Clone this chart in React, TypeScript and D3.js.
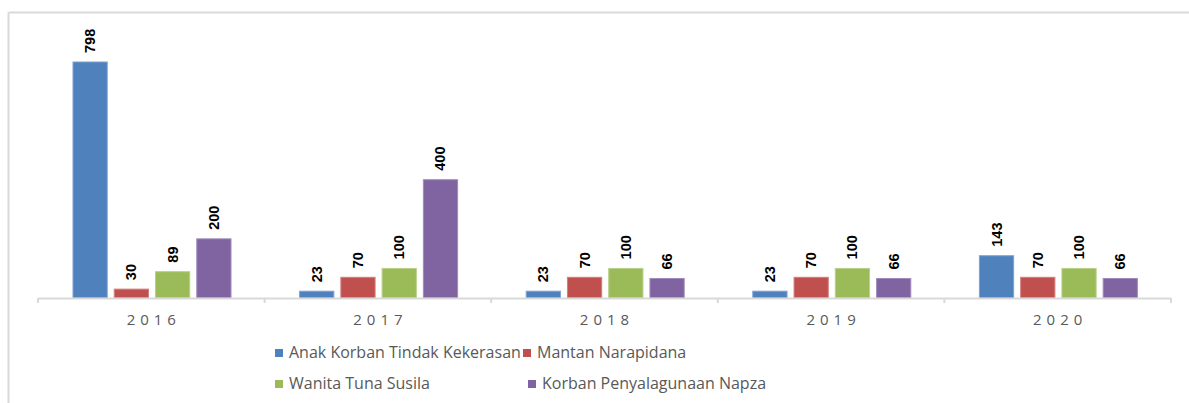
import React from "react";
import * as d3 from "d3";

const years = ["2016", "2017", "2018", "2019", "2020"];
const seriesNames = [
  "Anak Korban Tindak Kekerasan",
  "Mantan Narapidana",
  "Wanita Tuna Susila",
  "Korban Penyalagunaan Napza",
];
const anakKorban = [798, 23, 23, 23, 143];
const mantanNarapidana = [30, 70, 70, 70, 70];
const wanitaTunaSusila = [89, 100, 100, 100, 100];
const korbanNapza = [200, 400, 66, 66, 66];
const seriesValues = [anakKorban, mantanNarapidana, wanitaTunaSusila, korbanNapza];
const colors = ["#4F81BD", "#C0504D", "#9BBB59", "#8064A2"];
const strokes = ["#7FA2D0", "#D2807E", "#B8D08A", "#A08CBB"];

const W = 1189;
const H = 403;

export default function App() {
  const x0 = d3.scaleBand<string>().domain(years).range([38, 1171]).paddingInner(0).paddingOuter(0);
  const x1 = d3
    .scaleBand<string>()
    .domain(seriesNames)
    .range([35, 35 + 158])
    .paddingInner(0.17)
    .paddingOuter(0);
  const y = d3.scaleLinear().domain([0, 798]).range([298, 62]);
  const base = y(0);

  const legendItems = [
    { name: seriesNames[0], color: colors[0], x: 275, y: 358 },
    { name: seriesNames[1], color: colors[1], x: 523, y: 358 },
    { name: seriesNames[2], color: colors[2], x: 275, y: 389 },
    { name: seriesNames[3], color: colors[3], x: 528, y: 389 },
  ];

  const ticks = [...years.map((yr) => x0(yr) as number), 1171];

  return (
    <svg width={W} height={H} style={{ position: "absolute", left: 0, top: 0 }}>
      <rect x={0} y={0} width={W} height={H} fill="#fff" />
      <line x1={8.5} y1={12.5} x2={W} y2={12.5} stroke="#D9D9D9" strokeWidth={2} />
      <line x1={8.5} y1={12.5} x2={8.5} y2={H} stroke="#D9D9D9" strokeWidth={2} />

      {seriesValues.map((vals, si) =>
        vals.map((v, ci) => {
          const bx = (x0(years[ci]) as number) + (x1(seriesNames[si]) as number);
          const bw = x1.bandwidth();
          const top = y(v);
          const cx = bx + bw / 2;
          return (
            <g key={`${si}-${ci}`}>
              <rect
                x={bx}
                y={top}
                width={bw}
                height={base - top}
                fill={colors[si]}
                stroke={strokes[si]}
                strokeWidth={1}
              />
              <text
                transform={`translate(${cx + 5},${top - 9}) rotate(-90)`}
                fontFamily="'Liberation Sans Narrow', 'Arial Narrow', 'Liberation Sans', sans-serif"
                fontWeight="bold"
                fontSize={14.5}
                fill="#000"
              >
                {v}
              </text>
            </g>
          );
        })
      )}

      <line x1={38} y1={base + 0.5} x2={1171} y2={base + 0.5} stroke="#D9D9D9" strokeWidth={2} />
      {ticks.map((t, i) => (
        <line key={i} x1={t} y1={base} x2={t} y2={base + 5} stroke="#D9D9D9" strokeWidth={2} />
      ))}
      {years.map((yr) => (
        <text
          key={yr}
          x={(x0(yr) as number) + x0.bandwidth() / 2 + 2.5}
          y={325}
          textAnchor="middle"
          fontFamily="'Open Sans', 'Liberation Sans', sans-serif"
          fontSize={15}
          letterSpacing={5}
          fill="#595959"
        >
          {yr}
        </text>
      ))}

      {legendItems.map((it) => (
        <g key={it.name}>
          <rect x={it.x} y={it.y - 9} width={8} height={8} fill={it.color} />
          <text
            x={it.x + 14}
            y={it.y}
            fontFamily="'Open Sans', 'Liberation Sans', sans-serif"
            fontSize={16}
            fill="#595959"
          >
            {it.name}
          </text>
        </g>
      ))}
    </svg>
  );
}
